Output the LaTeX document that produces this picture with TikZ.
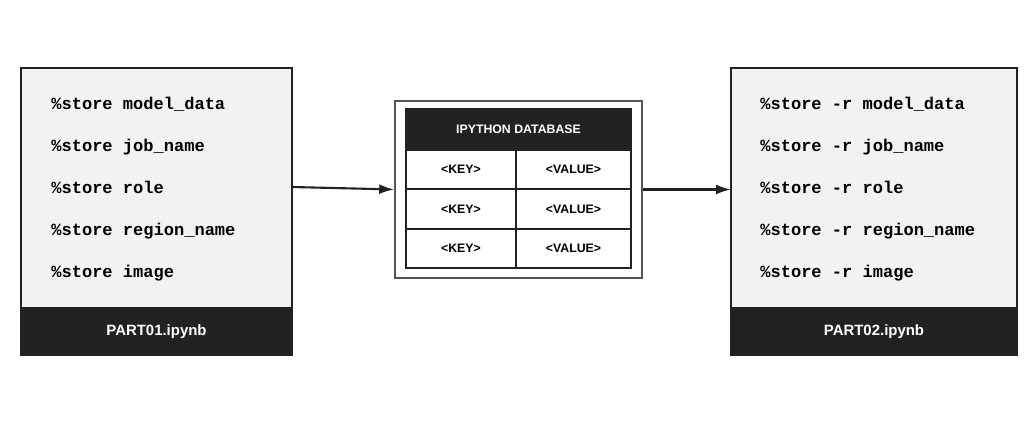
\documentclass[tikz,border=0pt]{standalone}
\usepackage{fontspec}
\setmainfont{Liberation Sans}
\setmonofont{Liberation Mono}
\usetikzlibrary{positioning,arrows.meta}
\definecolor{panelgray}{HTML}{F2F2F2}
\definecolor{inkdark}{HTML}{222222}
\definecolor{framegray}{HTML}{555555}
\tikzset{
	nbbody/.style={draw=inkdark, line width=1.1pt, fill=panelgray, minimum height=4.8cm, inner sep=0pt, outer sep=0pt},
	nbfoot/.style={draw=inkdark, line width=1.1pt, fill=inkdark, text=white, minimum height=0.94cm, inner sep=0pt, outer sep=0pt, font=\bfseries\fontsize{8.5}{10}\selectfont},
	codeline/.style={anchor=base west, inner sep=0pt, font=\ttfamily\bfseries\fontsize{9.7}{11}\selectfont},
	cell/.style={draw=inkdark, line width=1pt, fill=white, minimum height=0.79cm, inner sep=0pt, outer sep=0pt, font=\bfseries\fontsize{7}{8}\selectfont},
	flow/.style={-{Latex[length=3mm,width=2mm]}, line width=1.2pt, inkdark},
}
\begin{document}
\begin{tikzpicture}
		\useasboundingbox (0,0) rectangle (20.72,8.46);
		% left notebook
		\node[nbbody, minimum width=5.42cm] (lbody) at (3.13,4.70) {};
		\node[nbfoot, minimum width=5.42cm, below=0pt of lbody] (lfoot) {PART01.ipynb};
		\foreach \name [count=\k] in {model\_data, job\_name, role, region\_name, image}
			\node[codeline] (lline\k) at (1.02,{6.26-0.84*(\k-1)}) {\%store \name};
		% right notebook
		\node[nbbody, minimum width=5.72cm] (rbody) at (17.48,4.70) {};
		\node[nbfoot, minimum width=5.72cm, below=0pt of rbody] (rfoot) {PART02.ipynb};
		\foreach \name [count=\k] in {model\_data, job\_name, role, region\_name, image}
			\node[codeline] (rline\k) at (15.20,{6.26-0.84*(\k-1)}) {\%store -r \name};
		% database
		\node[draw=framegray, line width=0.9pt, fill=white, minimum width=4.94cm, minimum height=3.54cm] (dbframe) at (10.37,4.67) {};
		\node[cell, fill=inkdark, text=white, minimum width=4.5cm, minimum height=0.82cm] (dbhead) at (10.37,5.87) {IPYTHON DATABASE};
		\foreach \i/\y in {1/5.07,2/4.28,3/3.49}{
			\node[cell, minimum width=2.2cm] (key\i) at (9.22,\y) {<KEY>};
			\node[cell, minimum width=2.3cm] (val\i) at (11.47,\y) {<VALUE>};
		}
		\coordinate (lout) at (5.84,4.72);
		\draw[flow] (lout) -- (dbframe.west);
		\draw[flow] (dbframe.east) -- (dbframe.east -| rbody.west);
\end{tikzpicture}
\end{document}
